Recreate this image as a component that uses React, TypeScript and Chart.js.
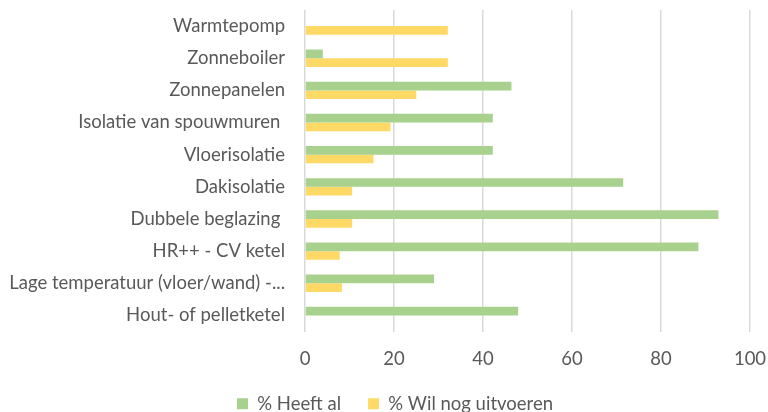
import React, { useEffect, useRef } from "react";
import { Chart, registerables } from "chart.js";

Chart.register(...registerables);

const categories = [
  "Warmtepomp",
  "Zonneboiler",
  "Zonnepanelen",
  "Isolatie van spouwmuren ",
  "Vloerisolatie",
  "Dakisolatie",
  "Dubbele beglazing ",
  "HR++ - CV ketel",
  "Lage temperatuur (vloer/wand) -...",
  "Hout- of pelletketel",
];
const heeftAl = [0, 4.0, 46.4, 42.2, 42.2, 71.5, 92.9, 88.4, 29.0, 47.9];
const wilNog = [32.1, 32.1, 25.0, 19.2, 15.4, 10.6, 10.6, 7.8, 8.3, 0];
const xTicks = [0, 20, 40, 60, 80, 100];

const FONT = "Lato, 'Open Sans', sans-serif";
const TEXT = "#595959";

const shiftLegend = {
  id: "shiftLegend",
  afterLayout(chart: any) {
    const l = chart.legend;
    if (l) {
      l.left += 20;
      l.right += 20;
    }
  },
};

export default function App() {
  const ref = useRef<HTMLCanvasElement | null>(null);
  useEffect(() => {
    if (!ref.current) return;
    const chart = new Chart(ref.current, {
      type: "bar",
      data: {
        labels: categories,
        datasets: [
          {
            label: "% Heeft al",
            data: heeftAl,
            backgroundColor: "#A9D18E",
            barPercentage: 1,
            categoryPercentage: 0.54,
          },
          {
            label: "% Wil nog uitvoeren",
            data: wilNog,
            backgroundColor: "#FFD966",
            barPercentage: 1,
            categoryPercentage: 0.54,
          },
        ],
      },
      plugins: [shiftLegend],
      options: {
        indexAxis: "y",
        animation: false,
        responsive: false,
        maintainAspectRatio: false,
        layout: { padding: { top: 10, right: 18, left: 0, bottom: 0 } },
        plugins: {
          tooltip: { enabled: false },
          legend: {
            position: "bottom",
            labels: {
              color: TEXT,
              font: { family: FONT, size: 18.5 },
              boxWidth: 11,
              boxHeight: 11,
              padding: 27,
            },
          },
        },
        scales: {
          x: {
            min: 0,
            max: 100,
            afterBuildTicks: (s: any) => {
              s.ticks = xTicks.map((v) => ({ value: v }));
            },
            afterFit: (s: any) => {
              s.paddingLeft = 0;
              s.paddingRight = 0;
              s.height = 36;
            },
            grid: { color: "#D9D9D9", lineWidth: 1.5, drawTicks: false },
            border: { display: false },
            ticks: {
              color: TEXT,
              font: { family: FONT, size: 18.5 },
              padding: 16,
            },
          },
          y: {
            grid: { display: false, drawTicks: false },
            border: { display: false },
            afterFit: (s: any) => {
              s.width = 305;
              s.paddingTop = 0;
              s.paddingBottom = 0;
            },
            ticks: {
              color: TEXT,
              font: { family: FONT, size: 18.5 },
              padding: 20,
              autoSkip: false,
            },
          },
        },
      },
    });
    return () => chart.destroy();
  }, []);
  return (
    <div style={{ position: "fixed", left: 0, top: 0, width: 768, height: 412, overflow: "hidden", background: "#fff" }}>
      <canvas ref={ref} width={768} height={423} />
    </div>
  );
}
